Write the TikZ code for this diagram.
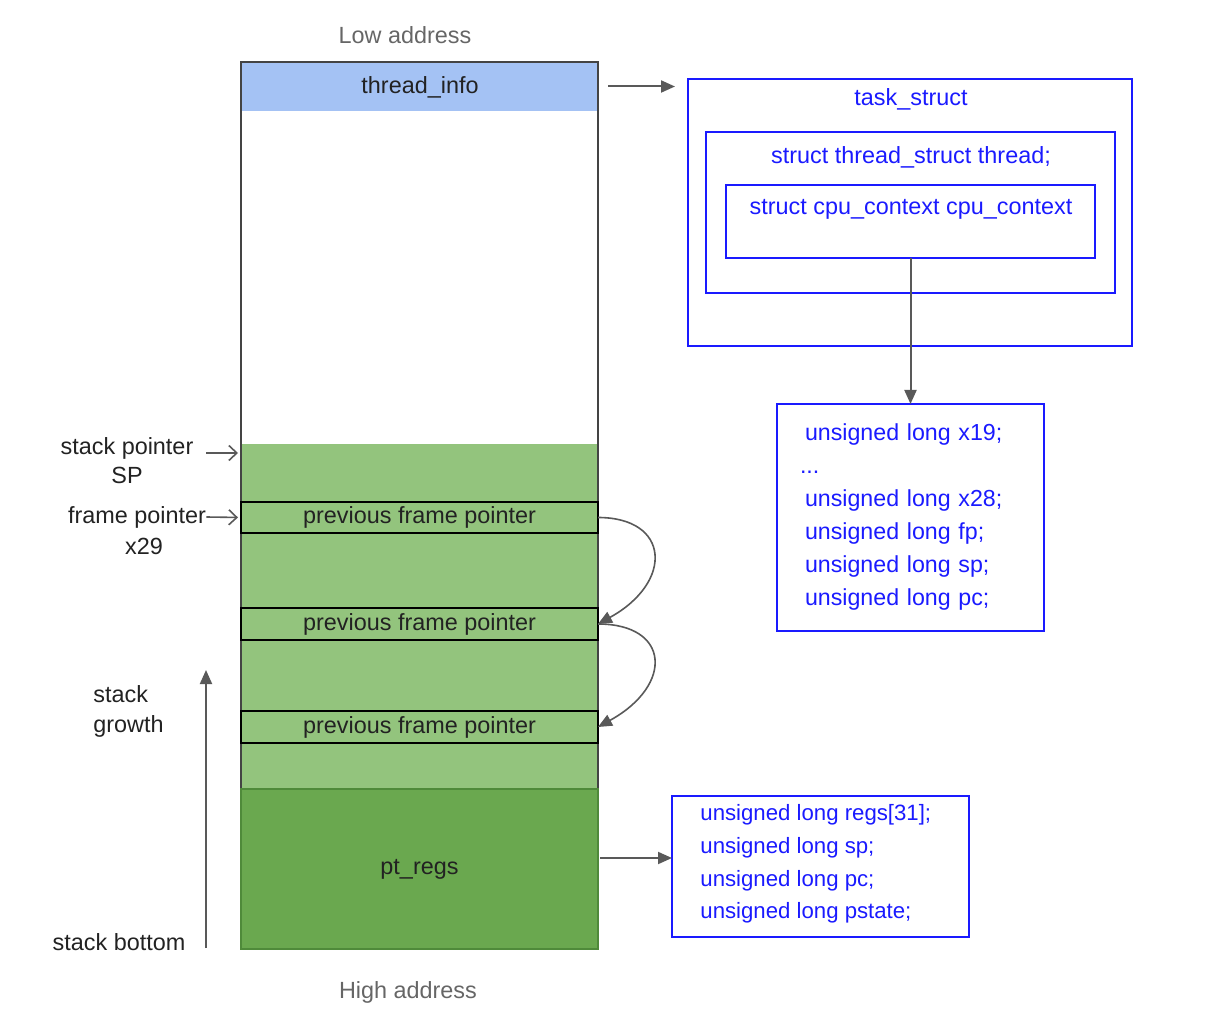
\documentclass[tikz,border=0pt]{standalone}
\usepackage{fontspec}
\setmainfont{Liberation Sans}
\usetikzlibrary{arrows.meta}
\definecolor{tiblue}{HTML}{A4C2F4}
\definecolor{lgreen}{HTML}{93C47D}
\definecolor{dgreen}{HTML}{6AA84F}
\definecolor{dgreenb}{HTML}{4F8A3A}
\definecolor{sblue}{HTML}{1A1AFF}
\definecolor{agrey}{HTML}{595959}
\definecolor{tgrey}{HTML}{666666}
\definecolor{ink}{HTML}{222222}
\definecolor{frame}{HTML}{444444}
\begin{document}
\begin{tikzpicture}[x=0.5pt,y=-0.5pt,
  font=\fontsize{11.7}{14}\selectfont,
  box/.style={draw=sblue, line width=1pt, inner sep=0pt, outer sep=0pt},
  arr/.style={draw=agrey, line width=1pt, -{Triangle[length=7pt,width=6pt]}},
  barb/.style={draw=agrey, line width=0.8pt, -{Straight Barb[length=4pt,width=7.5pt]}},
  band/.style={anchor=north west, minimum width=178.5pt, inner sep=0pt, outer sep=0pt},
  fpbox/.style={band, draw=black, line width=1pt, fill=lgreen, minimum height=15.5pt, text=ink},
  lbl/.style={text=ink, inner sep=0pt}
]
\useasboundingbox (0,0) rectangle (1221,1021);

% stack column
\node[band, fill=tiblue, minimum height=24.5pt] (tinfo) at (241,62) {};
\node[text=ink] (tinfolbl) at (420,87) {thread\_info};
\node[band, fill=lgreen, minimum height=172.5pt] (green) at (241,444) {};
\node[band, draw=frame, line width=1pt, minimum height=363.5pt] (stack) at (241,62) {};
\node[band, fill=dgreen, draw=dgreenb, line width=0.8pt, minimum height=80pt, text=ink] (ptregs) at (241,789) {pt\_regs};
\node[fpbox] (fp1) at (241,502) {previous frame pointer};
\node[fpbox, minimum height=16pt] (fp2) at (241,608) {previous frame pointer};
\node[fpbox, minimum height=16pt] (fp3) at (241,711) {previous frame pointer};

\node[text=tgrey] (low) at (405,35) {Low address};
\node[text=tgrey] (high) at (408,992) {High address};

% left labels
\node[lbl, align=center, font=\fontsize{11.7}{14.5}\selectfont] (splbl) at (127,461) {stack pointer\\SP};
\coordinate (spa) at (206,453);
\draw[barb, shorten >=1.5pt] (spa) -- (spa -| stack.west);
\node[lbl] (fplbl) at (137,517) {frame pointer};
\node[lbl] (x29) at (144,546) {x29};
\draw[barb, shorten >=1.5pt] (fplbl.east) -- (fp1.west);
\node[lbl, anchor=west, align=left, font=\fontsize{11.7}{15}\selectfont] (growth) at (93,711) {stack\\growth};
\node[lbl] (bottom) at (119,942) {stack bottom};
\coordinate (gb) at (206,948);
\coordinate (gt) at (206,670);
\draw[arr] (gb) -- (gt);

% frame chain
\draw[arr, line width=0.8pt] (fp1.east) .. controls +(72,0) and +(76,-42) .. (fp2.east);
\draw[arr, line width=0.8pt] (fp2.east) .. controls +(72,0) and +(76,-42) .. (fp3.east);

% task_struct
\node[box, minimum width=222pt, minimum height=133.5pt] (task) at (910,212.5) {};
\node[text=sblue] (tasklbl) at (911,99) {task\_struct};
\node[box, minimum width=204.5pt, minimum height=80.5pt] (thread) at (910.5,212.5) {};
\node[text=sblue] (threadlbl) at (911,157) {struct thread\_struct thread;};
\node[box, minimum width=184.5pt, minimum height=36.5pt] (cpu) at (910.5,221.5) {};
\node[text=sblue] (cpulbl) at (911,209) {struct cpu\_context cpu\_context};

\draw[arr, shorten <=5pt, shorten >=6.5pt] (tinfo.east) -- (tinfo.east -| task.west);

% cpu_context registers
\node[box, text=sblue, minimum width=133.5pt, minimum height=113.5pt, text width=105.5pt,
  inner xsep=14pt, align=left, font=\fontsize{11.6}{16.5}\selectfont] (regs) at (910.5,517.5)
  {unsigned long x19;\\
   \hspace*{-2.5pt}...\\
   unsigned long x28;\\
   unsigned long fp;\\
   unsigned long sp;\\
   unsigned long pc;};
\draw[arr] (cpu.south) -- (regs.north);

% pt_regs fields
\node[box, minimum width=148.5pt, minimum height=70.5pt] (ptbox) at (820.5,866.5) {};
\node[text=sblue, inner sep=0pt, anchor=west, align=left, font=\fontsize{11.1}{16.3}\selectfont] (pttext) at (700,864)
  {unsigned long regs[31];\\
   unsigned long sp;\\
   unsigned long pc;\\
   unsigned long pstate;};
\coordinate (pa) at ([yshift=5.5pt]ptregs.east);
\draw[arr, shorten <=1pt] (pa) -- (pa -| ptbox.west);
\end{tikzpicture}
\end{document}
